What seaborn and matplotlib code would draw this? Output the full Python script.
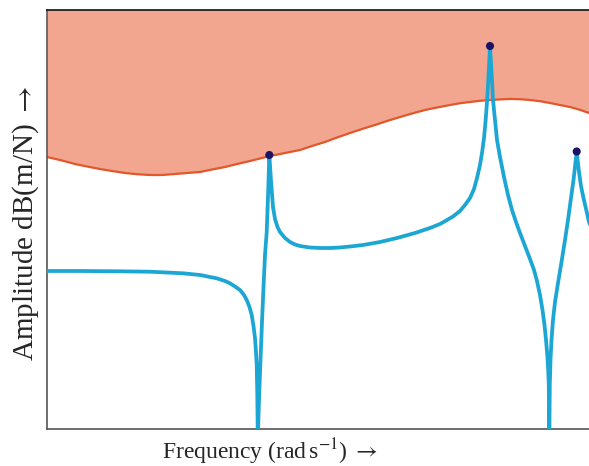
import matplotlib
matplotlib.use("Agg")
import matplotlib.pyplot as plt
import seaborn as sns

# Frequency response (arbitrary units)
freq = [0, 33, 73, 103, 136, 153, 169.7, 178, 183, 188, 193, 197, 199.7, 202.5,
        204.7, 206.5, 208, 209, 209.7, 210.3, 210.8,
        212, 213.5, 215, 216.5, 218, 219.7, 221.3, 222.3,
        223, 223.8, 224.7, 226, 228, 230.5, 233, 238, 243, 248, 253, 263, 273, 283,
        293, 303, 316, 333, 350, 368, 383, 393, 400, 406, 413, 418, 423, 427, 430,
        433, 435, 437, 438.5, 440, 441.2, 442.2, 443,
        443.8, 445, 446, 448, 450, 453, 457, 461, 465, 469, 473, 478, 483,
        487, 490, 493, 495.5, 497.5, 499, 500.3, 501.2, 501.8, 502.3,
        502.8, 503.5, 504.5, 506, 508, 511, 514.5, 518, 521, 524, 526.5,
        528.3, 529.7,
        530.6, 532, 534, 536.5, 539.5, 542, 546]
amp = [158, 158, 157.7, 157.3, 155.7, 154, 150.7, 148, 145.7, 142.5, 139, 134, 129, 122,
       114, 103, 91, 77, 64, 34, -11,
       29, 69, 107, 142, 174, 197, 241, 274,
       264, 251, 239, 222, 210, 202, 197, 191, 187, 184.5, 183, 181.5, 181, 181,
       181.5, 182.5, 184, 187, 191, 196, 201, 205, 209, 212.5, 218, 224, 231, 240, 251,
       264, 276, 291, 307, 327, 347, 367, 383,
       369, 349, 329, 309, 289, 272, 252, 234, 219, 207, 196, 183, 170,
       159, 148, 134, 119, 104, 89, 74, 59, 44, -11,
       44, 69, 89, 109, 127, 146, 167, 189, 209, 231, 249,
       265, 277.5,
       269, 257, 243, 231, 218, 207, 197]

# Upper boundary curve
bound_freq = [0, 15, 28, 40, 53, 65, 78, 90, 103, 115, 128, 140, 153, 165, 178, 190,
              203, 213, 223, 238, 253, 265, 278, 290, 303, 315, 328, 340, 353, 365,
              378, 390, 403, 413, 423, 433, 443, 453, 463, 473, 483, 493, 503, 513,
              523, 533, 542, 550]
bound_amp = [272, 268.5, 265, 262.5, 260, 258, 256, 254.8, 254, 254, 255, 256, 257,
             259.5, 262, 265, 268, 270.5, 273, 276, 279, 283, 287, 291.5, 296, 300,
             304, 308, 312, 315.5, 319, 321.5, 324, 325.8, 327, 328.2, 329, 329.6,
             330, 329.8, 329, 327.8, 326, 324, 322, 319.2, 316, 313]

# Resonance peaks
peak_freq = [222.3, 443, 529.7]
peak_amp = [274, 383, 277.5]

sns.set_theme(style="white")
plt.rcParams['font.family'] = ['Liberation Serif', 'DejaVu Serif']
plt.rcParams['mathtext.fontset'] = 'stix'

fig = plt.figure(figsize=(5.89, 4.66), dpi=100)
ax = fig.add_axes([47 / 589, 37 / 466, 542 / 589, 419 / 466])

YMAX = 419
ax.fill_between(bound_freq, bound_amp, YMAX + 10, color="#F2A68F", lw=0, zorder=1)
sns.lineplot(x=bound_freq, y=bound_amp, ax=ax, color="#E2572B", lw=1.6,
             estimator=None, sort=False, zorder=2)
sns.lineplot(x=freq, y=amp, ax=ax, color="#1BA6D4", lw=2.7,
             estimator=None, sort=False, zorder=3)
sns.scatterplot(x=peak_freq, y=peak_amp, ax=ax, color="#1B1464", s=34,
                edgecolor="none", zorder=4)

ax.set_xlim(0, 542)
ax.set_ylim(0, YMAX)
ax.set_xticks([])
ax.set_yticks([])

for side in ["left", "bottom"]:
    ax.spines[side].set_color("#555555")
    ax.spines[side].set_linewidth(1.2)
ax.spines["top"].set_color("#111111")
ax.spines["top"].set_linewidth(1.2)
ax.spines["right"].set_visible(False)

ax.set_xlabel(r"Frequency (rad$\,$s$^{-1}$) $\rightarrow$", fontsize=17)
ax.set_ylabel(r"Amplitude dB(m/N) $\rightarrow$", fontsize=21)
ax.xaxis.set_label_coords((270 - 47) / 542, -(459 - 429) / 419, transform=ax.transAxes)
ax.xaxis.label.set_va("baseline")
ax.yaxis.set_label_coords(-(47 - 26) / 542, (429 - 223) / 419, transform=ax.transAxes)
ax.yaxis.label.set_va("center")

fig.savefig("out.png", dpi=100)
